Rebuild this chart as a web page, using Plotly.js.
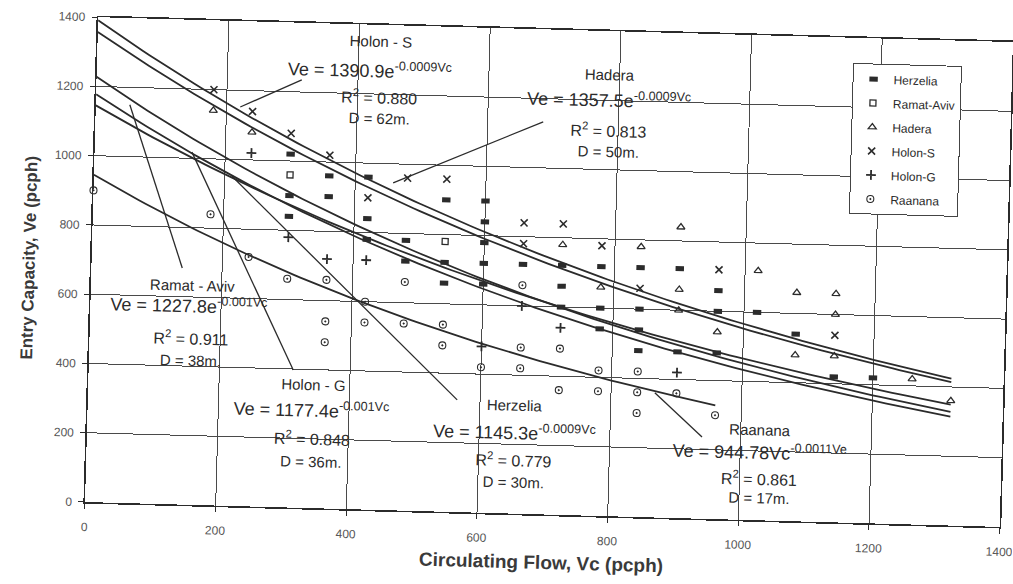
<!DOCTYPE html>
<html>
<head>
<meta charset="utf-8">
<script src="https://cdn.plot.ly/plotly-3.0.1.min.js"></script>
<style>
  html, body { margin: 0; padding: 0; background: #fff; overflow: hidden; }
  #chart { width: 1013px; height: 584px; transform: rotate(1.56deg); transform-origin: 85px 502px; }
</style>
</head>
<body>
<div id="chart"></div>
<script>
// Observed entry capacity against circulating flow at six roundabouts
const herzeliaX = [300,300,300,360,360,420,420,420,480,480,540,540,540,600,600,600,600,600,660,720,720,720,780,780,780,840,840,840,840,900,900,960,960,960,1020,1080,1140,1200];
const herzeliaY = [1020,900,840,960,900,960,840,780,780,720,900,720,660,900,840,780,720,660,720,720,660,600,720,600,540,720,600,540,480,720,480,660,600,480,600,540,420,420];

const ramatAvivX = [300,540];
const ramatAvivY = [960,780];

const haderaX = [180,240,720,780,840,900,900,900,960,1020,1080,1080,1140,1140,1140,1260,1320];
const haderaY = [1140,1080,780,660,780,840,660,600,540,720,660,480,660,600,480,420,360];

const holonSX = [180,240,300,360,420,480,540,660,660,720,780,840,960,1140];
const holonSY = [1200,1140,1080,1020,900,960,960,840,780,840,780,660,720,540];

const holonGX = [240,300,360,420,600,660,720,900];
const holonGY = [1020,780,720,720,480,600,540,420];

const raananaX = [0,180,240,300,360,360,360,420,420,480,480,540,540,600,660,660,660,720,720,780,780,840,840,840,900,960];
const raananaY = [900,840,720,660,660,540,480,600,540,660,540,540,480,420,660,480,420,480,360,420,360,420,360,300,360,300];

// Exponential fits Ve = a·e^(b·Vc), as printed beside each curve
const fitNames = ['Holon - S','Hadera','Ramat - Aviv','Holon - G','Herzelia','Raanana'];
const fitA     = [1390.9, 1357.5, 1227.8, 1177.4, 1145.3, 944.78];
const fitB     = [-0.0009, -0.0009, -0.001, -0.001, -0.0009, -0.0011];
const fitXMax  = [1320, 1320, 1320, 1320, 1320, 960];
const fitEquations = [
  'Ve = 1390.9e<sup>-0.0009Vc</sup>',
  'Ve = 1357.5e<sup>-0.0009Vc</sup>',
  'Ve = 1227.8e<sup>-0.001Vc</sup>',
  'Ve = 1177.4e<sup>-0.001Vc</sup>',
  'Ve = 1145.3e<sup>-0.0009Vc</sup>',
  'Ve = 944.78Vc<sup>-0.0011Ve</sup>'
];
const fitR2 = ['0.880','0.813','0.911','0.848','0.779','0.861'];
const fitD  = ['62m.','50m.','38m.','36m.','30m.','17m.'];

// Label block anchors (name line, equation, R², D) and leader lines, in data units
const labelX   = [433, 785, 156, 344, 654, 1030];
const labelEqX = [418, 785, 150, 342, 654, 1030];
const labelNameY = [1351, 1274, 635, 356, 314, 261];
const labelEqY   = [1269, 1201, 577, 283, 236, 198];
const labelR2Y   = [1192, 1115, 482, 203, 155, 122];
const labelDY    = [1131, 1051, 418, 133, 91, 64];
const leaderX0 = [314, 685, 139, 313, 565, 941];
const leaderY0 = [1235, 1133, 683, 397, 324, 236];
const leaderX1 = [221, 458, 52, 149, 211, 867];
const leaderY1 = [1152, 945, 1150, 1018, 952, 360];

const ink = '#2b2b2b';
const font = "Arial, 'Liberation Sans', sans-serif";

function markerTrace(name, xs, ys, symbol, size, width, group) {
  return {
    type: 'scatter', mode: 'markers', name: name, x: xs, y: ys,
    legendgroup: group, cliponaxis: false,
    marker: { symbol: symbol, size: size, color: ink, line: { color: ink, width: width } }
  };
}

const traces = [];
// fitted curves
for (let i = 0; i < fitA.length; i++) {
  const xs = [], ys = [];
  for (let v = 0; v <= fitXMax[i]; v += 10) {
    xs.push(v);
    ys.push(fitA[i] * Math.exp(fitB[i] * v));
  }
  traces.push({ type: 'scatter', mode: 'lines', x: xs, y: ys, showlegend: false,
    hoverinfo: 'skip', line: { color: ink, width: 1.8 } });
}
traces.push(markerTrace('Herzelia',   herzeliaX,  herzeliaY,  'line-ew-open', 6, 5, 'g1'));
traces.push(markerTrace('Ramat-Aviv', ramatAvivX, ramatAvivY, 'square-open', 6, 1.3, 'g2'));
traces.push(markerTrace('Hadera',     haderaX,    haderaY,    'triangle-up-open', 7, 1.3, 'g3'));
traces.push(markerTrace('Holon-S',    holonSX,    holonSY,    'x-thin-open', 7, 1.6, 'g4'));
traces.push(markerTrace('Holon-G',    holonGX,    holonGY,    'cross-thin-open', 7, 1.8, 'g5'));
traces.push(markerTrace('Raanana',    raananaX,   raananaY,   'circle-open-dot', 7, 1.1, 'g6'));

const annotations = [];
const shapes = [];
for (let i = 0; i < fitNames.length; i++) {
  const base = { x: labelX[i], xref: 'x', yref: 'y', showarrow: false };
  annotations.push(Object.assign({}, base, { y: labelNameY[i], text: fitNames[i], font: { family: font, color: ink, size: 15 } }));
  annotations.push(Object.assign({}, base, { x: labelEqX[i], y: labelEqY[i], text: fitEquations[i], font: { family: font, color: ink, size: 18 } }));
  annotations.push(Object.assign({}, base, { y: labelR2Y[i], text: 'R<sup>2</sup> = ' + fitR2[i], font: { family: font, color: ink, size: 16 } }));
  annotations.push(Object.assign({}, base, { y: labelDY[i], text: 'D = ' + fitD[i], font: { family: font, color: ink, size: 15 } }));
  shapes.push({ type: 'line', xref: 'x', yref: 'y', x0: leaderX0[i], y0: leaderY0[i], x1: leaderX1[i], y1: leaderY1[i],
    line: { color: ink, width: 1.3 } });
}

const axisCommon = {
  range: [0, 1400], dtick: 200, tick0: 0,
  showgrid: true, gridcolor: '#4a4a4a', gridwidth: 1,
  zeroline: false, showline: true, linecolor: ink, linewidth: 1.6, mirror: true,
  ticks: 'outside', ticklen: 5, tickcolor: ink,
  ticklabeloverflow: 'allow',
  tickfont: { family: font, size: 12, color: '#555' }
};

const layout = {
  width: 1013, height: 584,
  margin: { l: 85, r: 13, t: 17, b: 82 },
  paper_bgcolor: 'rgba(0,0,0,0)', plot_bgcolor: '#fff',
  showlegend: true,
  legend: {
    x: 0.826, y: 0.948, xanchor: 'left', yanchor: 'top',
    bgcolor: '#fff', bordercolor: '#444', borderwidth: 1,
    font: { family: font, size: 12, color: ink },
    traceorder: 'grouped', tracegroupgap: 5, itemwidth: 30
  },
  xaxis: Object.assign({}, axisCommon, {
    ticklabelstandoff: 8,
    title: { text: 'Circulating Flow, Vc (pcph)', standoff: 10, font: { family: font, size: 19, color: '#3a3a3a', weight: 'bold' } }
  }),
  yaxis: Object.assign({}, axisCommon, {
    ticklabelstandoff: 4,
    title: { text: 'Entry Capacity, Ve (pcph)', standoff: 12, font: { family: font, size: 17, color: '#3a3a3a', weight: 'bold' } }
  }),
  annotations: annotations,
  shapes: shapes
};

Plotly.newPlot('chart', traces, layout, { displayModeBar: false, staticPlot: true });
</script>
</body>
</html>
